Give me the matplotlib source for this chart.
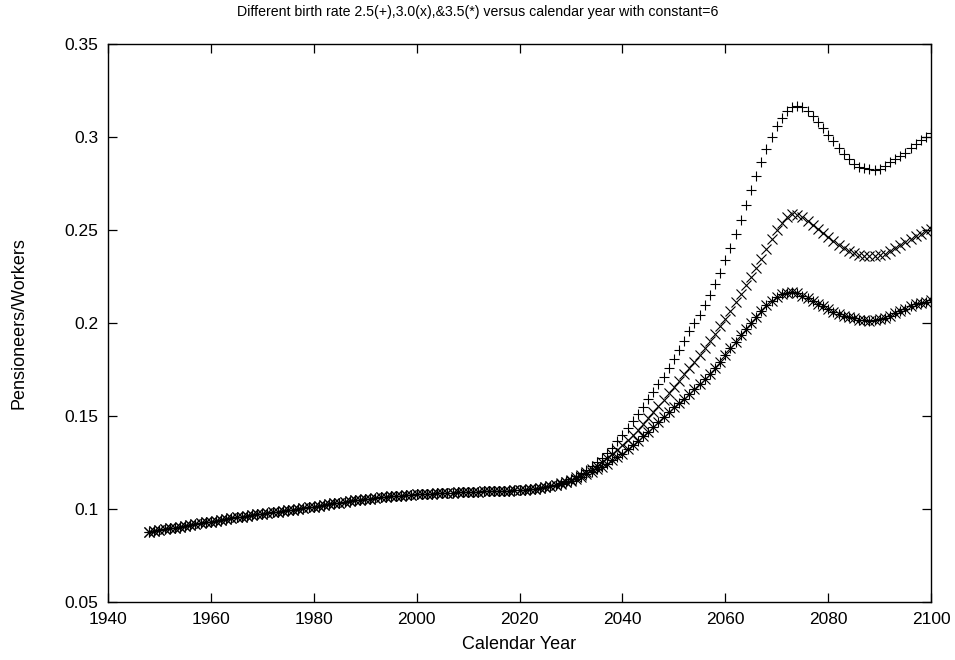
import matplotlib
matplotlib.use("Agg")
import matplotlib.pyplot as plt
import numpy as np

plt.rcParams['font.family'] = ['Liberation Sans', 'DejaVu Sans']

# years 1948..2027, all three birth rates give the same ratio
years_common = np.arange(1948, 2028)
common = [
    0.0877, 0.0882, 0.0887, 0.0892, 0.0896, 0.0900, 0.0905, 0.0910, 0.0914, 0.0919,
    0.0923, 0.0928, 0.0932, 0.0937, 0.0941, 0.0946, 0.0950, 0.0955, 0.0959, 0.0963,
    0.0967, 0.0971, 0.0975, 0.0979, 0.0982, 0.0986, 0.0990, 0.0993, 0.0997, 0.1001,
    0.1005, 0.1009, 0.1013, 0.1017, 0.1021, 0.1026, 0.1030, 0.1034, 0.1038, 0.1042,
    0.1046, 0.1050, 0.1053, 0.1056, 0.1059, 0.1062, 0.1065, 0.1068, 0.1070, 0.1072,
    0.1074, 0.1076, 0.1078, 0.1080, 0.1081, 0.1083, 0.1084, 0.1086, 0.1087, 0.1088,
    0.1089, 0.1090, 0.1091, 0.1092, 0.1093, 0.1094, 0.1095, 0.1096, 0.1097, 0.1098,
    0.1099, 0.1100, 0.1102, 0.1104, 0.1107, 0.1110, 0.1114, 0.1118, 0.1123, 0.1129,
]

# years 2028..2100, one tail per birth rate
years_tail = np.arange(2028, 2101)
tail_25 = [
    0.1140, 0.1150, 0.1162, 0.1176, 0.1192, 0.1210, 0.1230, 0.1252, 0.1276, 0.1302,
    0.1330, 0.1365, 0.1400, 0.1436, 0.1472, 0.1510, 0.1550, 0.1590, 0.1630, 0.1670,
    0.1712, 0.1757, 0.1805, 0.1855, 0.1905, 0.1955, 0.2000, 0.2045, 0.2095, 0.2150,
    0.2210, 0.2272, 0.2337, 0.2405, 0.2478, 0.2555, 0.2635, 0.2715, 0.2792, 0.2866,
    0.2935, 0.3000, 0.3058, 0.3105, 0.3140, 0.3162, 0.3168, 0.3160, 0.3140, 0.3112,
    0.3080, 0.3047, 0.3012, 0.2977, 0.2943, 0.2908, 0.2880, 0.2858, 0.2842, 0.2832,
    0.2827, 0.2826, 0.2830, 0.2845, 0.2865, 0.2885, 0.2900, 0.2915, 0.2940, 0.2965,
    0.2985, 0.3003, 0.3020,
]
tail_30 = [
    0.1138, 0.1147, 0.1158, 0.1170, 0.1183, 0.1198, 0.1214, 0.1232, 0.1251, 0.1272,
    0.1294, 0.1318, 0.1343, 0.1369, 0.1397, 0.1427, 0.1458, 0.1490, 0.1522, 0.1555,
    0.1588, 0.1622, 0.1656, 0.1690, 0.1724, 0.1758, 0.1792, 0.1827, 0.1864, 0.1902,
    0.1941, 0.1982, 0.2024, 0.2067, 0.2111, 0.2157, 0.2203, 0.2250, 0.2297, 0.2346,
    0.2400, 0.2450, 0.2500, 0.2540, 0.2570, 0.2585, 0.2582, 0.2568, 0.2550, 0.2530,
    0.2508, 0.2485, 0.2462, 0.2440, 0.2420, 0.2402, 0.2387, 0.2375, 0.2366, 0.2361,
    0.2360, 0.2361, 0.2365, 0.2371, 0.2385, 0.2402, 0.2420, 0.2437, 0.2452, 0.2467,
    0.2481, 0.2494, 0.2505,
]
tail_35 = [
    0.1136, 0.1144, 0.1153, 0.1163, 0.1174, 0.1186, 0.1199, 0.1213, 0.1228, 0.1244,
    0.1261, 0.1279, 0.1297, 0.1320, 0.1343, 0.1366, 0.1390, 0.1413, 0.1440, 0.1467,
    0.1494, 0.1520, 0.1547, 0.1570, 0.1594, 0.1617, 0.1643, 0.1670, 0.1697, 0.1725,
    0.1757, 0.1790, 0.1828, 0.1865, 0.1900, 0.1935, 0.1968, 0.2000, 0.2033, 0.2065,
    0.2095, 0.2120, 0.2140, 0.2155, 0.2162, 0.2165, 0.2162, 0.2148, 0.2135, 0.2120,
    0.2105, 0.2090, 0.2075, 0.2062, 0.2050, 0.2040, 0.2032, 0.2025, 0.2019, 0.2015,
    0.2013, 0.2014, 0.2020, 0.2028, 0.2040, 0.2052, 0.2065, 0.2078, 0.2090, 0.2100,
    0.2108, 0.2116, 0.2122,
]

years = np.concatenate([years_common, years_tail])
r25 = np.concatenate([common, tail_25])
r30 = np.concatenate([common, tail_30])
r35 = np.concatenate([common, tail_35])

fig = plt.figure(figsize=(9.55, 6.6), dpi=100)
ax = fig.add_axes([0.113, 0.088, 0.862, 0.845])

ms = 7
mk = dict(linestyle='none', color='black', markersize=ms, markeredgewidth=0.8)
ax.plot(years, r25, marker='+', **mk)
ax.plot(years, r30, marker='x', **mk)
# gnuplot style '*' = plus and cross on top of each other
ax.plot(years, r35, marker='+', **mk)
ax.plot(years, r35, marker='x', **mk)

ax.set_xlim(1940, 2100)
ax.set_ylim(0.05, 0.35)
ax.set_xticks(np.arange(1940, 2101, 20))
ax.set_yticks(np.arange(0.05, 0.351, 0.05))
ax.set_yticklabels(['0.05', '0.1', '0.15', '0.2', '0.25', '0.3', '0.35'])
ax.tick_params(direction='in', length=6.5, width=0.9, top=True, right=True,
               labelsize=12.5, pad=7)
for s in ax.spines.values():
    s.set_linewidth(1.0)

ax.set_xlabel('Calendar Year', fontsize=13, labelpad=7)
ax.set_ylabel('Pensioneers/Workers', fontsize=13, va='center')
ax.yaxis.set_label_coords(-0.108, 0.5)
fig.text(0.5, 0.982, 'Different birth rate 2.5(+),3.0(x),&3.5(*) versus calendar year with constant=6',
         fontsize=10.2, ha='center', va='center')

fig.savefig('out.png', dpi=100)
